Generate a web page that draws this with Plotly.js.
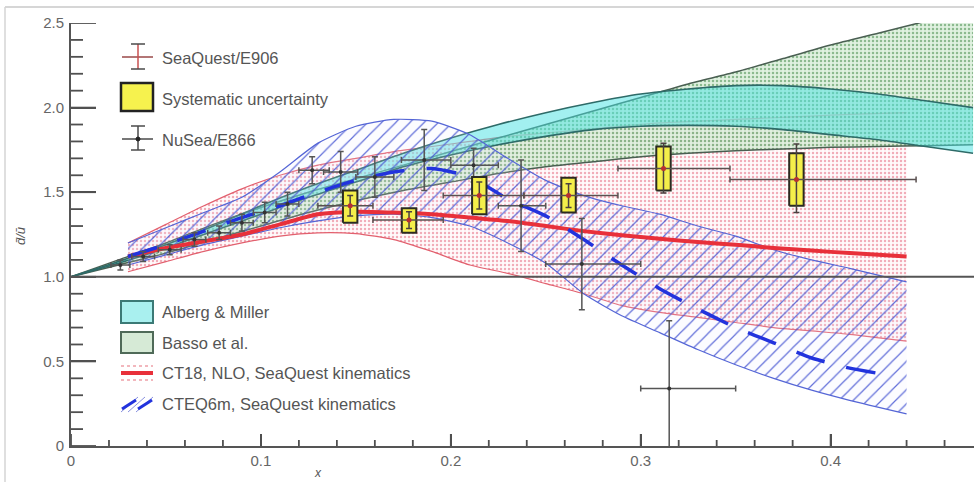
<!DOCTYPE html>
<html>
<head>
<meta charset="utf-8">
<script src="https://cdn.plot.ly/plotly-3.0.1.min.js"></script>
<style>html,body{margin:0;padding:0;background:#fff;}#chart{width:974px;height:482px;}</style>
</head>
<body>
<div id="chart"></div>
<script>
// ---------------- DATA ----------------
// Model bands starting at x = 0
const gridX = [0, 0.025, 0.05, 0.075, 0.1, 0.125, 0.15, 0.175, 0.2, 0.225, 0.25, 0.275, 0.3, 0.325, 0.35, 0.375, 0.4, 0.425, 0.45, 0.475];
const albergHi = [1.0, 1.09, 1.19, 1.30, 1.42, 1.53, 1.63, 1.73, 1.82, 1.90, 1.97, 2.03, 2.08, 2.11, 2.13, 2.13, 2.11, 2.08, 2.04, 2.00];
const albergLo = [1.0, 1.08, 1.17, 1.27, 1.37, 1.47, 1.56, 1.65, 1.72, 1.78, 1.83, 1.87, 1.89, 1.895, 1.89, 1.87, 1.84, 1.81, 1.77, 1.73];
const bassoHi  = [1.0, 1.10, 1.20, 1.31, 1.41, 1.50, 1.58, 1.66, 1.74, 1.82, 1.90, 1.98, 2.06, 2.14, 2.21, 2.29, 2.37, 2.44, 2.51, 2.58];
const bassoLo  = [1.0, 1.07, 1.14, 1.22, 1.30, 1.38, 1.45, 1.51, 1.56, 1.61, 1.65, 1.68, 1.71, 1.73, 1.745, 1.755, 1.765, 1.77, 1.775, 1.78];

// PDF predictions (SeaQuest kinematics)
const pdfX     = [0.03, 0.05, 0.07, 0.09, 0.11, 0.13, 0.15, 0.17, 0.19, 0.21, 0.23, 0.25, 0.27, 0.29, 0.31, 0.33, 0.35, 0.37, 0.39, 0.41, 0.44];
const ct18Mid  = [1.12, 1.17, 1.21, 1.25, 1.31, 1.37, 1.385, 1.38, 1.37, 1.35, 1.33, 1.30, 1.27, 1.245, 1.225, 1.205, 1.19, 1.17, 1.155, 1.14, 1.12];
const ct18Lo   = [1.03, 1.09, 1.15, 1.20, 1.24, 1.26, 1.255, 1.22, 1.15, 1.07, 1.02, 0.96, 0.90, 0.83, 0.79, 0.76, 0.73, 0.70, 0.68, 0.66, 0.62];
const ct18Hi   = [1.20, 1.31, 1.42, 1.52, 1.60, 1.66, 1.70, 1.74, 1.77, 1.80, 1.83, 1.85, 1.87, 1.89, 1.91, 1.92, 1.93, 1.94, 1.95, 1.96, 1.97];
const cteqLo   = [1.07, 1.13, 1.19, 1.24, 1.29, 1.33, 1.36, 1.37, 1.35, 1.30, 1.20, 1.08, 0.90, 0.77, 0.67, 0.57, 0.48, 0.40, 0.33, 0.27, 0.19];
const cteqHi   = [1.20, 1.29, 1.38, 1.47, 1.62, 1.79, 1.89, 1.93, 1.92, 1.84, 1.70, 1.57, 1.48, 1.42, 1.37, 1.30, 1.24, 1.16, 1.10, 1.05, 0.97];
const cteqMidX = [0.03, 0.05, 0.07, 0.09, 0.11, 0.13, 0.15, 0.17, 0.19, 0.21, 0.23, 0.25, 0.27, 0.29, 0.31, 0.33, 0.35, 0.37, 0.39, 0.41, 0.43];
const cteqMid  = [1.12, 1.19, 1.27, 1.35, 1.42, 1.50, 1.57, 1.62, 1.64, 1.59, 1.46, 1.36, 1.22, 1.07, 0.93, 0.81, 0.70, 0.61, 0.52, 0.46, 0.42];

// SeaQuest / E906 data
const sqX      = [0.147, 0.178, 0.215, 0.262, 0.312, 0.382];
const sqY      = [1.42, 1.335, 1.48, 1.48, 1.64, 1.575];
const sqStatUp = [0.06, 0.05, 0.08, 0.07, 0.15, 0.21];
const sqStatDn = [0.06, 0.05, 0.08, 0.07, 0.145, 0.195];
const sqXlo    = [0.130, 0.159, 0.196, 0.2385, 0.288, 0.347];
const sqXhi    = [0.159, 0.196, 0.2385, 0.288, 0.347, 0.445];
const sqSysLo  = [1.32, 1.26, 1.37, 1.38, 1.51, 1.42];
const sqSysHi  = [1.51, 1.405, 1.59, 1.585, 1.77, 1.73];

// NuSea / E866 data
const nsX      = [0.026, 0.038, 0.052, 0.065, 0.078, 0.090, 0.102, 0.114, 0.127, 0.142, 0.160, 0.186, 0.212, 0.237, 0.269, 0.315];
const nsY      = [1.07, 1.12, 1.16, 1.22, 1.26, 1.32, 1.38, 1.43, 1.63, 1.62, 1.59, 1.69, 1.66, 1.42, 1.075, 0.34];
const nsErrY   = [0.03, 0.03, 0.03, 0.04, 0.04, 0.05, 0.06, 0.07, 0.08, 0.12, 0.12, 0.18, 0.10, 0.27, 0.27, 0.40];
const nsXlo    = [0.021, 0.032, 0.046, 0.059, 0.072, 0.084, 0.096, 0.108, 0.120, 0.133, 0.150, 0.174, 0.200, 0.225, 0.250, 0.300];
const nsXhi    = [0.031, 0.044, 0.058, 0.071, 0.084, 0.096, 0.108, 0.120, 0.136, 0.151, 0.170, 0.200, 0.225, 0.250, 0.300, 0.350];

// Axis ticks
const xTickVals = [0, 0.1, 0.2, 0.3, 0.4];
const xTickText = ["0", "0.1", "0.2", "0.3", "0.4"];
const yTickVals = [0, 0.5, 1.0, 1.5, 2.0, 2.5];
const yTickText = ["0", "0.5", "1.0", "1.5", "2.0", "2.5"];
const xMinorStep = 0.02;
const yMinorStep = 0.1;
const unityLevel = 1.0;

const legendTop = ["SeaQuest/E906", "Systematic uncertainty", "NuSea/E866"];
const legendBottom = ["Alberg & Miller", "Basso et al.", "CT18, NLO, SeaQuest kinematics", "CTEQ6m, SeaQuest kinematics"];

// ---------------- STYLE / BUILD ----------------
const W = 974, H = 482, ML = 71, MR = 0, MT = 23, MB = 36;
const PW = W - ML - MR, PH = H - MT - MB;
const X_RANGE = [0, 0.4755], Y_RANGE = [0, 2.5];
const px = v => (v - ML) / PW;
const py = v => (H - MB - v) / PH;
const BOX_HALF = 0.0038;
const SMOOTH = 0.6;

function edge(xs, ys, color, width, dash) {
  return {x: xs, y: ys, type: 'scatter', mode: 'lines',
    line: {color: color, width: width, dash: dash || 'solid', shape: 'spline', smoothing: SMOOTH},
    hoverinfo: 'skip', showlegend: false};
}
// band = lower edge trace + upper edge trace filled to it
function band(xs, lo, hi, lineColor, lineW, fillcolor, pattern) {
  const a = edge(xs, lo, lineColor, lineW);
  const b = edge(xs, hi, lineColor, lineW);
  b.fill = 'tonexty';
  b.fillcolor = fillcolor;
  if (pattern) b.fillpattern = pattern;
  return [a, b];
}

// boxes from systematic arrays
const boxX = [], boxY = [];
sqX.forEach((x, i) => {
  boxX.push(x - BOX_HALF, x + BOX_HALF, x + BOX_HALF, x - BOX_HALF, x - BOX_HALF, null);
  boxY.push(sqSysLo[i], sqSysLo[i], sqSysHi[i], sqSysHi[i], sqSysLo[i], null);
});

const traces = [].concat(
  band(pdfX, ct18Lo, ct18Hi, '#e2606e', 1.2, 'rgba(255,236,240,0.45)',
       {shape: '.', fgcolor: 'rgba(232,120,140,0.6)', bgcolor: 'rgba(255,240,243,0.3)', size: 4, solidity: 0.3, fillmode: 'replace'}),
  band(gridX, bassoLo, bassoHi, '#4a5f52', 1.5, 'rgba(210,235,210,0.6)',
       {shape: '.', fgcolor: 'rgba(110,165,115,0.75)', bgcolor: 'rgba(208,234,208,0.65)', size: 4, solidity: 0.3, fillmode: 'replace'}),
  band(gridX, albergLo, albergHi, '#2e6b68', 1.6, 'rgba(70,225,225,0.5)'),
  band(pdfX, cteqLo, cteqHi, '#5566d6', 1.2, 'rgba(0,0,0,0)',
       {shape: '/', fgcolor: 'rgba(70,85,210,0.85)', bgcolor: 'rgba(235,236,255,0.15)', size: 10, solidity: 0.12, fillmode: 'replace'}),
  [
  edge(pdfX, ct18Mid, '#e8303a', 4),
  edge(cteqMidX, cteqMid, '#2233dd', 3.5, '30px,22px'),
  // NuSea / E866
  {x: nsX, y: nsY, type: 'scatter', mode: 'markers',
   marker: {color: '#333', size: 4},
   error_y: {type: 'data', array: nsErrY, color: '#555', thickness: 1.5, width: 3},
   error_x: {type: 'data', symmetric: false,
             array: nsX.map((x, i) => nsXhi[i] - x), arrayminus: nsX.map((x, i) => x - nsXlo[i]),
             color: '#555', thickness: 1.5, width: 3},
   hoverinfo: 'x+y', showlegend: false},
  // systematic boxes
  {x: boxX, y: boxY, type: 'scatter', mode: 'lines', fill: 'toself',
   fillcolor: '#f4ee4a', line: {color: '#2b2b22', width: 2}, hoverinfo: 'skip', showlegend: false},
  // SeaQuest / E906
  {x: sqX, y: sqY, type: 'scatter', mode: 'markers',
   marker: {color: '#b83030', size: 5},
   error_y: {type: 'data', symmetric: false, array: sqStatUp, arrayminus: sqStatDn, color: '#4a4040', thickness: 1.5, width: 3},
   error_x: {type: 'data', symmetric: false,
             array: sqX.map((x, i) => sqXhi[i] - x), arrayminus: sqX.map((x, i) => x - sqXlo[i]),
             color: '#5a5050', thickness: 1.5, width: 3},
   hoverinfo: 'x+y', showlegend: false}
  ]
);

// ---------------- shapes / annotations ----------------
const shapes = [];
const annotations = [];
const LC = '#4a4a4a';
const TICK_C = '#505050';
function lineP(x0, y0, x1, y1, color, width, dash) {
  shapes.push({type: 'line', xref: 'paper', yref: 'paper', x0: px(x0), y0: py(y0), x1: px(x1), y1: py(y1),
    line: {color: color, width: width, dash: dash || 'solid'}, layer: 'above'});
}
function rectP(x0, y0, x1, y1, fill, color, width) {
  shapes.push({type: 'rect', xref: 'paper', yref: 'paper', x0: px(x0), y0: py(y1), x1: px(x1), y1: py(y0),
    fillcolor: fill, line: {color: color, width: width}, layer: 'above'});
}
function textP(x, y, s) {
  annotations.push({xref: 'paper', yref: 'paper', x: px(x), y: py(y), text: s, showarrow: false,
    xanchor: 'left', yanchor: 'middle', font: {family: 'Liberation Sans, Arial, sans-serif', size: 16.5, color: '#555'}});
}

// inner axis tick marks, placed through the axes' own scales
function yTick(v, len) {
  shapes.push({type: 'line', xref: 'paper', yref: 'y', x0: 0, x1: len / PW, y0: v, y1: v,
    line: {color: TICK_C, width: 1.8}, layer: 'above'});
}
function xTick(v, len) {
  shapes.push({type: 'line', xref: 'x', yref: 'paper', x0: v, x1: v, y0: 0, y1: len / PH,
    line: {color: TICK_C, width: 1.8}, layer: 'above'});
}
for (let k = 0; k * yMinorStep <= Y_RANGE[1] + 1e-9; k++) {
  const v = +(k * yMinorStep).toFixed(3);
  yTick(v, yTickVals.some(t => Math.abs(t - v) < 1e-6) ? 25 : 12);
}
for (let k = 0; k * xMinorStep <= X_RANGE[1] + 1e-9; k++) {
  const v = +(k * xMinorStep).toFixed(3);
  xTick(v, xTickVals.some(t => Math.abs(t - v) < 1e-6) ? 12 : 6);
}

// frame lines of the picture (top and left)
lineP(5, 7, 974, 7, '#c9c9c9', 1.5);
lineP(5, 7, 5, 482, '#d4d4d4', 1.5);
// y = 1 reference line
shapes.push({type: 'line', xref: 'paper', yref: 'y', x0: 0, x1: 1, y0: unityLevel, y1: unityLevel,
  line: {color: '#555', width: 2}, layer: 'above'});

// SeaQuest symbol
lineP(122, 57, 153, 57, '#9a4848', 1.5);
lineP(138, 44, 138, 69, '#c85050', 1.5);
lineP(131, 44, 145, 44, LC, 1.5);
lineP(131, 69, 145, 69, LC, 1.5);
textP(160, 58, legendTop[0]);
// Systematic box
rectP(121, 83, 153, 111, '#f6f24e', '#222', 2.5);
textP(160, 99, legendTop[1]);
// NuSea symbol
lineP(122, 139, 153, 139, LC, 1.5);
lineP(138, 126, 138, 150, LC, 1.5);
lineP(131, 126, 145, 126, LC, 1.5);
lineP(131, 150, 145, 150, LC, 1.5);
shapes.push({type: 'circle', xref: 'paper', yref: 'paper', x0: px(136), x1: px(140), y0: py(141), y1: py(137),
  fillcolor: '#222', line: {color: '#222', width: 1}, layer: 'above'});
textP(160, 140, legendTop[2]);
// Alberg & Miller
rectP(121, 301, 153, 323, '#a9f0ef', '#3b7a76', 2);
textP(160, 312, legendBottom[0]);
// Basso
rectP(121, 332, 153, 353, '#d6ead6', '#4f6a58', 2);
textP(160, 343, legendBottom[1]);
// CT18
lineP(121, 366, 153, 366, '#eea0a8', 1.5, 'dot');
lineP(121, 373, 153, 373, '#e8303a', 4);
lineP(121, 380, 153, 380, '#eea0a8', 1.5, 'dot');
textP(160, 373, legendBottom[2]);
// CTEQ6m
lineP(121, 412, 138, 397, '#8a92e0', 1);
lineP(128, 412, 145, 397, '#8a92e0', 1);
lineP(136, 412, 153, 397, '#8a92e0', 1);
lineP(122, 409, 136, 400, '#2233dd', 3);
lineP(138, 409, 152, 400, '#2233dd', 3);
textP(160, 404, legendBottom[3]);

// axis titles
annotations.push({xref: 'paper', yref: 'paper', x: px(21), y: py(236), text: 'd\u0304/u\u0304', textangle: -90,
  showarrow: false, xanchor: 'center', yanchor: 'middle',
  font: {family: 'Liberation Sans, Arial, sans-serif', size: 13, color: '#555', style: 'italic'}});
annotations.push({xref: 'paper', yref: 'paper', x: px(318), y: py(473), text: 'x', showarrow: false,
  xanchor: 'center', yanchor: 'middle',
  font: {family: 'Liberation Sans, Arial, sans-serif', size: 12, color: '#555', style: 'italic'}});

const tickFont = {family: 'Liberation Sans, Arial, sans-serif', size: 15, color: '#666'};
const NOGRID = 'rgba(0,0,0,0)';
const layout = {
  width: W, height: H,
  margin: {l: ML, r: MR, t: MT, b: MB, pad: 0},
  paper_bgcolor: '#fff', plot_bgcolor: '#fff',
  showlegend: false,
  xaxis: {range: X_RANGE, tickmode: 'array', tickvals: xTickVals, ticktext: xTickText, ticks: 'inside', ticklen: 12,
    tickwidth: 1.8, tickcolor: TICK_C, gridcolor: NOGRID, zeroline: false, showline: true, linecolor: '#555',
    linewidth: 2, tickfont: tickFont},
  yaxis: {range: Y_RANGE, tickmode: 'array', tickvals: yTickVals, ticktext: yTickText, ticks: 'inside', ticklen: 25,
    tickwidth: 1.8, tickcolor: TICK_C, gridcolor: NOGRID, zeroline: false, showline: true, linecolor: '#555',
    linewidth: 2, tickfont: tickFont, ticklabelstandoff: 2},
  shapes: shapes,
  annotations: annotations
};
Plotly.newPlot('chart', traces, layout, {displayModeBar: false, staticPlot: true});
</script>
</body>
</html>
